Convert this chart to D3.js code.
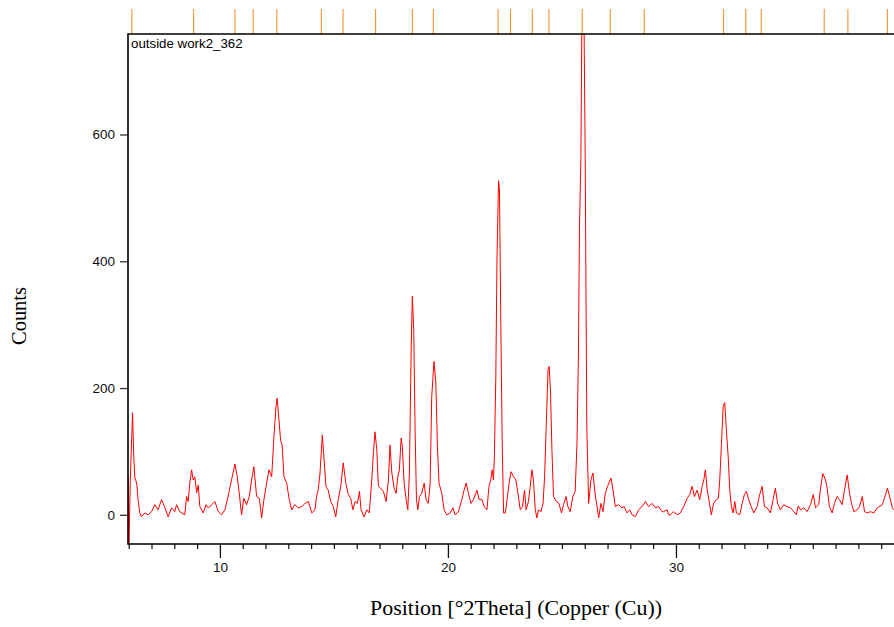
<!DOCTYPE html>
<html>
<head>
<meta charset="utf-8">
<script src="https://cdn.jsdelivr.net/npm/d3@7/dist/d3.min.js"></script>
<style>
  body { margin: 0; background: #fff; }
  .tick text { font-family: "Liberation Sans", Arial, sans-serif; font-size: 13.5px; fill: #111; }
</style>
</head>
<body>
<svg id="chart" width="894" height="627"></svg>
<script>
// scan
const twoTheta = [5.97,6.01,6.07,6.17,6.22,6.27,6.31,6.36,6.41,6.49,6.56,6.71,6.85,7.00,7.15,7.29,7.44,7.59,7.73,7.88,
  8.02,8.10,8.24,8.46,8.54,8.61,8.68,8.76,8.83,8.90,8.98,9.05,9.12,9.27,9.39,9.49,9.64,9.78,9.93,10.07,
  10.22,10.36,10.51,10.66,10.76,10.85,10.95,11.05,11.17,11.29,11.39,11.49,11.61,11.73,11.83,11.93,12.05,12.15,12.27,12.37,
  12.46,12.51,12.59,12.66,12.73,12.81,12.93,13.04,13.15,13.29,13.44,13.59,13.73,13.88,14.03,14.17,14.24,14.31,14.39,14.49,
  14.57,14.65,14.75,14.86,14.97,15.08,15.19,15.30,15.41,15.52,15.63,15.74,15.83,15.93,16.03,16.12,16.19,16.32,16.44,16.55,
  16.66,16.73,16.80,16.88,16.95,17.05,17.17,17.29,17.39,17.46,17.54,17.64,17.73,17.80,17.87,17.95,18.00,18.08,18.17,18.24,
  18.31,18.39,18.44,18.50,18.56,18.62,18.68,18.75,18.85,18.96,19.04,19.14,19.22,19.29,19.39,19.47,19.54,19.61,19.73,19.83,
  19.95,20.10,20.22,20.32,20.46,20.61,20.71,20.80,20.90,21.01,21.12,21.27,21.37,21.49,21.59,21.71,21.80,21.88,21.94,22.00,
  22.04,22.10,22.15,22.22,22.26,22.32,22.38,22.44,22.52,22.61,22.70,22.77,22.88,22.98,23.07,23.17,23.27,23.36,23.43,23.53,
  23.61,23.68,23.75,23.83,23.90,23.97,24.08,24.17,24.24,24.31,24.39,24.44,24.50,24.56,24.63,24.75,24.87,24.98,25.07,25.18,
  25.26,25.36,25.48,25.58,25.66,25.72,25.77,25.83,25.87,25.92,25.97,26.02,26.09,26.17,26.27,26.36,26.45,26.54,26.61,26.71,
  26.80,26.90,27.00,27.15,27.24,27.34,27.48,27.63,27.73,27.85,27.97,28.08,28.22,28.36,28.51,28.66,28.80,28.95,29.10,29.24,
  29.39,29.46,29.61,29.68,29.75,29.90,30.05,30.19,30.34,30.49,30.60,30.71,30.81,30.93,31.04,31.15,31.22,31.29,31.37,31.47,
  31.55,31.65,31.77,31.86,31.92,31.99,32.07,32.14,32.21,32.29,32.36,32.43,32.51,32.58,32.65,32.80,32.90,33.00,33.09,33.19,
  33.30,33.41,33.56,33.67,33.78,33.88,34.00,34.14,34.26,34.36,34.46,34.58,34.73,34.88,35.02,35.17,35.28,35.36,35.46,35.61,
  35.75,35.90,36.02,36.12,36.26,36.34,36.44,36.56,36.63,36.73,36.85,36.95,37.07,37.17,37.29,37.39,37.51,37.61,37.70,37.80,
  37.95,38.05,38.17,38.27,38.39,38.53,38.68,38.83,39.05,39.19,39.27,39.37,39.49,39.56,39.70,39.90]
const counts = [61,-60,55,161,95,58,55,47,24,3,-3,3,0,5,16,8,24,11,-3,11,
  5,16,5,0,29,21,50,71,55,60,35,47,13,3,16,11,16,21,5,0,
  8,29,55,80,60,34,0,26,16,29,55,76,29,26,-5,24,50,71,60,123,
  171,184,150,118,110,60,50,24,8,16,11,13,18,21,3,8,29,39,66,126,
  87,45,39,21,13,-3,24,45,82,50,32,26,8,21,18,37,8,-3,8,3,
  55,97,131,103,45,42,37,21,55,110,66,42,34,60,71,121,108,50,24,8,
  66,265,345,292,134,24,8,29,34,50,24,18,50,187,242,208,108,50,34,8,
  0,3,11,0,5,24,39,50,34,18,24,39,24,24,13,8,45,55,71,55,
  97,218,402,527,513,297,113,3,3,29,55,68,60,55,34,8,13,39,8,21,
  45,71,55,8,-5,8,5,18,60,139,229,234,192,103,29,21,18,3,16,29,
  13,5,29,37,113,244,455,560,760,830,770,560,139,18,55,66,34,13,-5,18,
  5,34,45,58,39,13,16,11,13,3,8,0,-3,8,13,21,13,18,11,13,
  5,5,8,0,0,5,0,3,13,26,32,45,29,39,24,45,55,71,39,18,
  0,18,24,26,55,108,171,177,134,92,39,13,3,21,3,0,18,32,37,24,
  13,3,13,32,45,13,11,3,24,42,18,8,16,13,11,5,0,14,8,11,
  5,16,32,11,16,42,65,55,42,13,3,18,29,24,16,39,63,34,18,5,
  8,13,29,5,3,5,3,11,16,32,42,29,11,8,10,5]

// reference pattern lines along the top
const refPeaks = [6.14,8.85,10.66,11.46,12.50,14.45,15.40,16.83,18.44,19.36,22.20,22.74,23.70,24.43,25.89,27.12,28.61,32.09,33.06,33.74,36.50,37.54,39.27]

const xMajor = [10,20,30]
const xMinor = d3.range(6,41)
const yTicks = [0,200,400,600]
const sampleName = 'outside work2_362'
const xTitle = 'Position [°2Theta] (Copper (Cu))'
const yTitle = 'Counts'

const svg = d3.select('#chart')
const pLeft = 128, pRight = 904, pTop = 34, pBottom = 544

const x = d3.scaleLinear().domain([5.97, 40.0]).range([pLeft, pRight])
const y = d3.scaleLinear().domain([-46, 758.5]).range([pBottom, pTop])

svg.append('defs').append('clipPath').attr('id', 'plot')
  .append('rect').attr('x', pLeft).attr('y', pTop).attr('width', pRight - pLeft).attr('height', pBottom - pTop)

// reference ticks
svg.append('g')
  .selectAll('line')
  .data(refPeaks)
  .enter().append('line')
  .attr('x1', d => x(d)).attr('x2', d => x(d))
  .attr('y1', 9).attr('y2', pTop)
  .attr('stroke', '#f5871f')
  .attr('stroke-width', 1)

// trace
const pts = twoTheta.map((t, i) => [t, counts[i]])
svg.append('path')
  .datum(pts)
  .attr('clip-path', 'url(#plot)')
  .attr('fill', 'none')
  .attr('stroke', '#ff0000')
  .attr('stroke-width', 1)
  .attr('stroke-linejoin', 'round')
  .attr('d', d3.line().x(d => x(d[0])).y(d => y(d[1])))

// axes
const yAxis = svg.append('g')
  .attr('transform', `translate(${pLeft},0)`)
  .call(d3.axisLeft(y).tickValues(yTicks).tickSize(8).tickPadding(5))
yAxis.select('.domain').remove()
yAxis.selectAll('.tick line').attr('stroke', '#333').attr('stroke-width', 1.3)

const xMinorAxis = svg.append('g')
  .attr('transform', `translate(0,${pBottom})`)
  .call(d3.axisBottom(x).tickValues(xMinor.filter(v => xMajor.indexOf(v) < 0)).tickSize(5).tickFormat(''))
xMinorAxis.select('.domain').remove()
xMinorAxis.selectAll('.tick line').attr('stroke', '#111').attr('stroke-width', 1.2)

const xAxis = svg.append('g')
  .attr('transform', `translate(0,${pBottom})`)
  .call(d3.axisBottom(x).tickValues(xMajor).tickSize(14).tickPadding(4).tickFormat(d3.format('d')))
xAxis.select('.domain').remove()
xAxis.selectAll('.tick line').attr('stroke', '#111').attr('stroke-width', 1.3)

// frame: left, top, bottom
svg.append('path')
  .attr('d', `M${pRight},${pTop}H${pLeft}V${pBottom}H${pRight}`)
  .attr('fill', 'none')
  .attr('stroke', '#000')
  .attr('stroke-width', 1.6)

svg.append('text')
  .attr('x', pLeft + 3).attr('y', 48)
  .style('font-family', '"Liberation Sans", Arial, sans-serif')
  .style('font-size', '13.3px')
  .text(sampleName)

svg.append('text')
  .attr('x', 370).attr('y', 615)
  .attr('textLength', 292)
  .attr('lengthAdjust', 'spacingAndGlyphs')
  .style('font-family', '"Liberation Serif", "DejaVu Serif", serif')
  .style('font-size', '20.5px')
  .text(xTitle)

svg.append('text')
  .attr('transform', 'translate(26,345) rotate(-90)')
  .attr('textLength', 58)
  .attr('lengthAdjust', 'spacingAndGlyphs')
  .style('font-family', '"Liberation Serif", "DejaVu Serif", serif')
  .style('font-size', '20.5px')
  .text(yTitle)
</script>
</body>
</html>
